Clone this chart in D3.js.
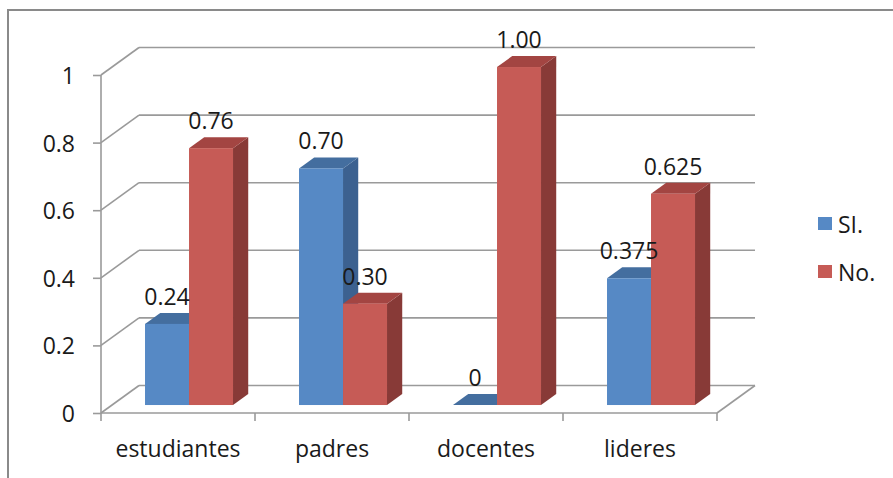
<!DOCTYPE html>
<html>
<head>
<meta charset="utf-8">
<script src="https://cdn.jsdelivr.net/npm/d3@7"></script>
<style>
  body { margin: 0; background: #fff; }
  svg text { font-family: "Open Sans", sans-serif; font-size: 23px; fill: #1a1a1a; }
</style>
</head>
<body>
<div id="chart"></div>
<script>
var categories = ["estudiantes", "padres", "docentes", "lideres"];
var series = ["SI.", "No."];
var siValues = [0.24, 0.70, 0, 0.375];
var noValues = [0.76, 0.30, 1.00, 0.625];
var siLabels = ["0.24", "0.70", "0", "0.375"];
var noLabels = ["0.76", "0.30", "1.00", "0.625"];
var yTicks = [0, 0.2, 0.4, 0.6, 0.8, 1];

var width = 893, height = 478;
var depthX = 38, depthY = 27.5;   // 3d offset of the back wall
var zFront = 0.29, zBack = 0.69;  // bar depth inside the box

var colors = {
  "SI.": {front: "#5689c5", top: "#446e9f", side: "#3c6190"},
  "No.": {front: "#c65b56", top: "#a34542", side: "#883a37"}
};

var svg = d3.select("#chart").append("svg")
    .attr("width", width)
    .attr("height", height);

// outer border of the chart area
svg.append("rect")
    .attr("x", 8).attr("y", 10)
    .attr("width", 900).attr("height", 480)
    .attr("fill", "#fff")
    .attr("stroke", "#8a8a8a")
    .attr("stroke-width", 2);

var x = d3.scaleBand()
    .domain(categories)
    .range([101, 717]);

var xs = d3.scaleBand()
    .domain(series)
    .range([0, x.bandwidth()])
    .paddingOuter(0.75);

var y = d3.scaleLinear()
    .domain([0, 1])
    .range([413, 75]);

function px(xv, z) { return xv + z * depthX; }
function py(yv, z) { return yv - z * depthY; }

var grid = svg.append("g")
    .attr("fill", "none")
    .attr("stroke", "#9a9a9a")
    .attr("stroke-width", 1.6);

// back wall gridlines
grid.selectAll(".back").data(yTicks).enter().append("line")
    .attr("x1", px(101, 1)).attr("x2", px(717, 1))
    .attr("y1", function(d) { return py(y(d), 1); })
    .attr("y2", function(d) { return py(y(d), 1); });

// side wall diagonals
grid.selectAll(".side").data(yTicks).enter().append("line")
    .attr("x1", 101).attr("x2", px(101, 1))
    .attr("y1", function(d) { return y(d); })
    .attr("y2", function(d) { return py(y(d), 1); });

// floor right edge and front edge
grid.append("line")
    .attr("x1", 717).attr("y1", y(0))
    .attr("x2", px(717, 1)).attr("y2", py(y(0), 1));
grid.append("line")
    .attr("x1", 101).attr("y1", y(0))
    .attr("x2", 717).attr("y2", y(0));

// category boundary ticks
grid.selectAll(".ctick").data(categories).enter().append("line")
    .attr("x1", function(d) { return x(d) + x.bandwidth(); })
    .attr("x2", function(d) { return x(d) + x.bandwidth(); })
    .attr("y1", y(0)).attr("y2", y(0) + 8);

// y axis
var yAxis = svg.append("g")
    .attr("transform", "translate(101,0)")
    .call(d3.axisLeft(y).tickValues(yTicks).tickFormat(d3.format("")).tickSize(8).tickPadding(18));
yAxis.select(".domain").attr("d", "M0," + y(1) + "V" + (y(0) + 8))
    .attr("stroke", "#9a9a9a").attr("stroke-width", 1.6);
yAxis.selectAll(".tick line").attr("stroke", "#9a9a9a").attr("stroke-width", 1.6);
yAxis.selectAll(".tick text")
    .attr("dy", null).attr("y", 8.5)
    .style("font-size", "23px").style("font-family", "\"Open Sans\", sans-serif").attr("fill", "#1a1a1a");

// category labels
var xAxis = svg.append("g")
    .attr("transform", "translate(0," + y(0) + ")")
    .call(d3.axisBottom(x).tickSize(0).tickPadding(0));
xAxis.select(".domain").remove();
xAxis.selectAll(".tick text")
    .attr("dy", null).attr("y", 44)
    .style("font-size", "23px").style("font-family", "\"Open Sans\", sans-serif").attr("fill", "#1a1a1a");

// bars
var bars = [];
categories.forEach(function(c, i) {
  bars.push({cat: c, s: "SI.", v: siValues[i], label: siLabels[i]});
  bars.push({cat: c, s: "No.", v: noValues[i], label: noLabels[i]});
});

var g = svg.selectAll(".bar").data(bars).enter().append("g").attr("class", "bar");

function pts(a) { return a.map(function(p) { return p.join(","); }).join(" "); }

g.each(function(d) {
  var sel = d3.select(this);
  var x0 = x(d.cat) + xs(d.s), x1 = x0 + xs.bandwidth();
  var yb = y(0), yt = y(d.v);
  var c = colors[d.s];
  // side
  sel.append("polygon").attr("fill", c.side).attr("points", pts([
    [px(x1, zFront), py(yb, zFront)], [px(x1, zBack), py(yb, zBack)],
    [px(x1, zBack), py(yt, zBack)], [px(x1, zFront), py(yt, zFront)]]));
  // top
  sel.append("polygon").attr("fill", c.top).attr("points", pts([
    [px(x0, zFront), py(yt, zFront)], [px(x1, zFront), py(yt, zFront)],
    [px(x1, zBack), py(yt, zBack)], [px(x0, zBack), py(yt, zBack)]]));
  // front
  if (d.v > 0) {
    sel.append("rect").attr("fill", c.front)
      .attr("x", px(x0, zFront)).attr("y", py(yt, zFront))
      .attr("width", x1 - x0).attr("height", yb - yt);
  }
});

// data labels, on top of all bars
svg.append("g").selectAll("text").data(bars).enter().append("text")
    .attr("text-anchor", "middle")
    .attr("x", function(d) { return px(x(d.cat) + xs(d.s) + xs.bandwidth() / 2, zFront); })
    .attr("y", function(d) { return py(y(d.v), zBack) - 8; })
    .text(function(d) { return d.label; });

// legend
var legend = svg.selectAll(".legend").data(series).enter().append("g")
    .attr("transform", function(d, i) { return "translate(818," + (217 + i * 48) + ")"; });
legend.append("rect")
    .attr("width", 14).attr("height", 13)
    .attr("fill", function(d) { return colors[d].front; });
legend.append("text")
    .attr("x", 20).attr("y", 16)
    .text(function(d) { return d; });
</script>
</body>
</html>
